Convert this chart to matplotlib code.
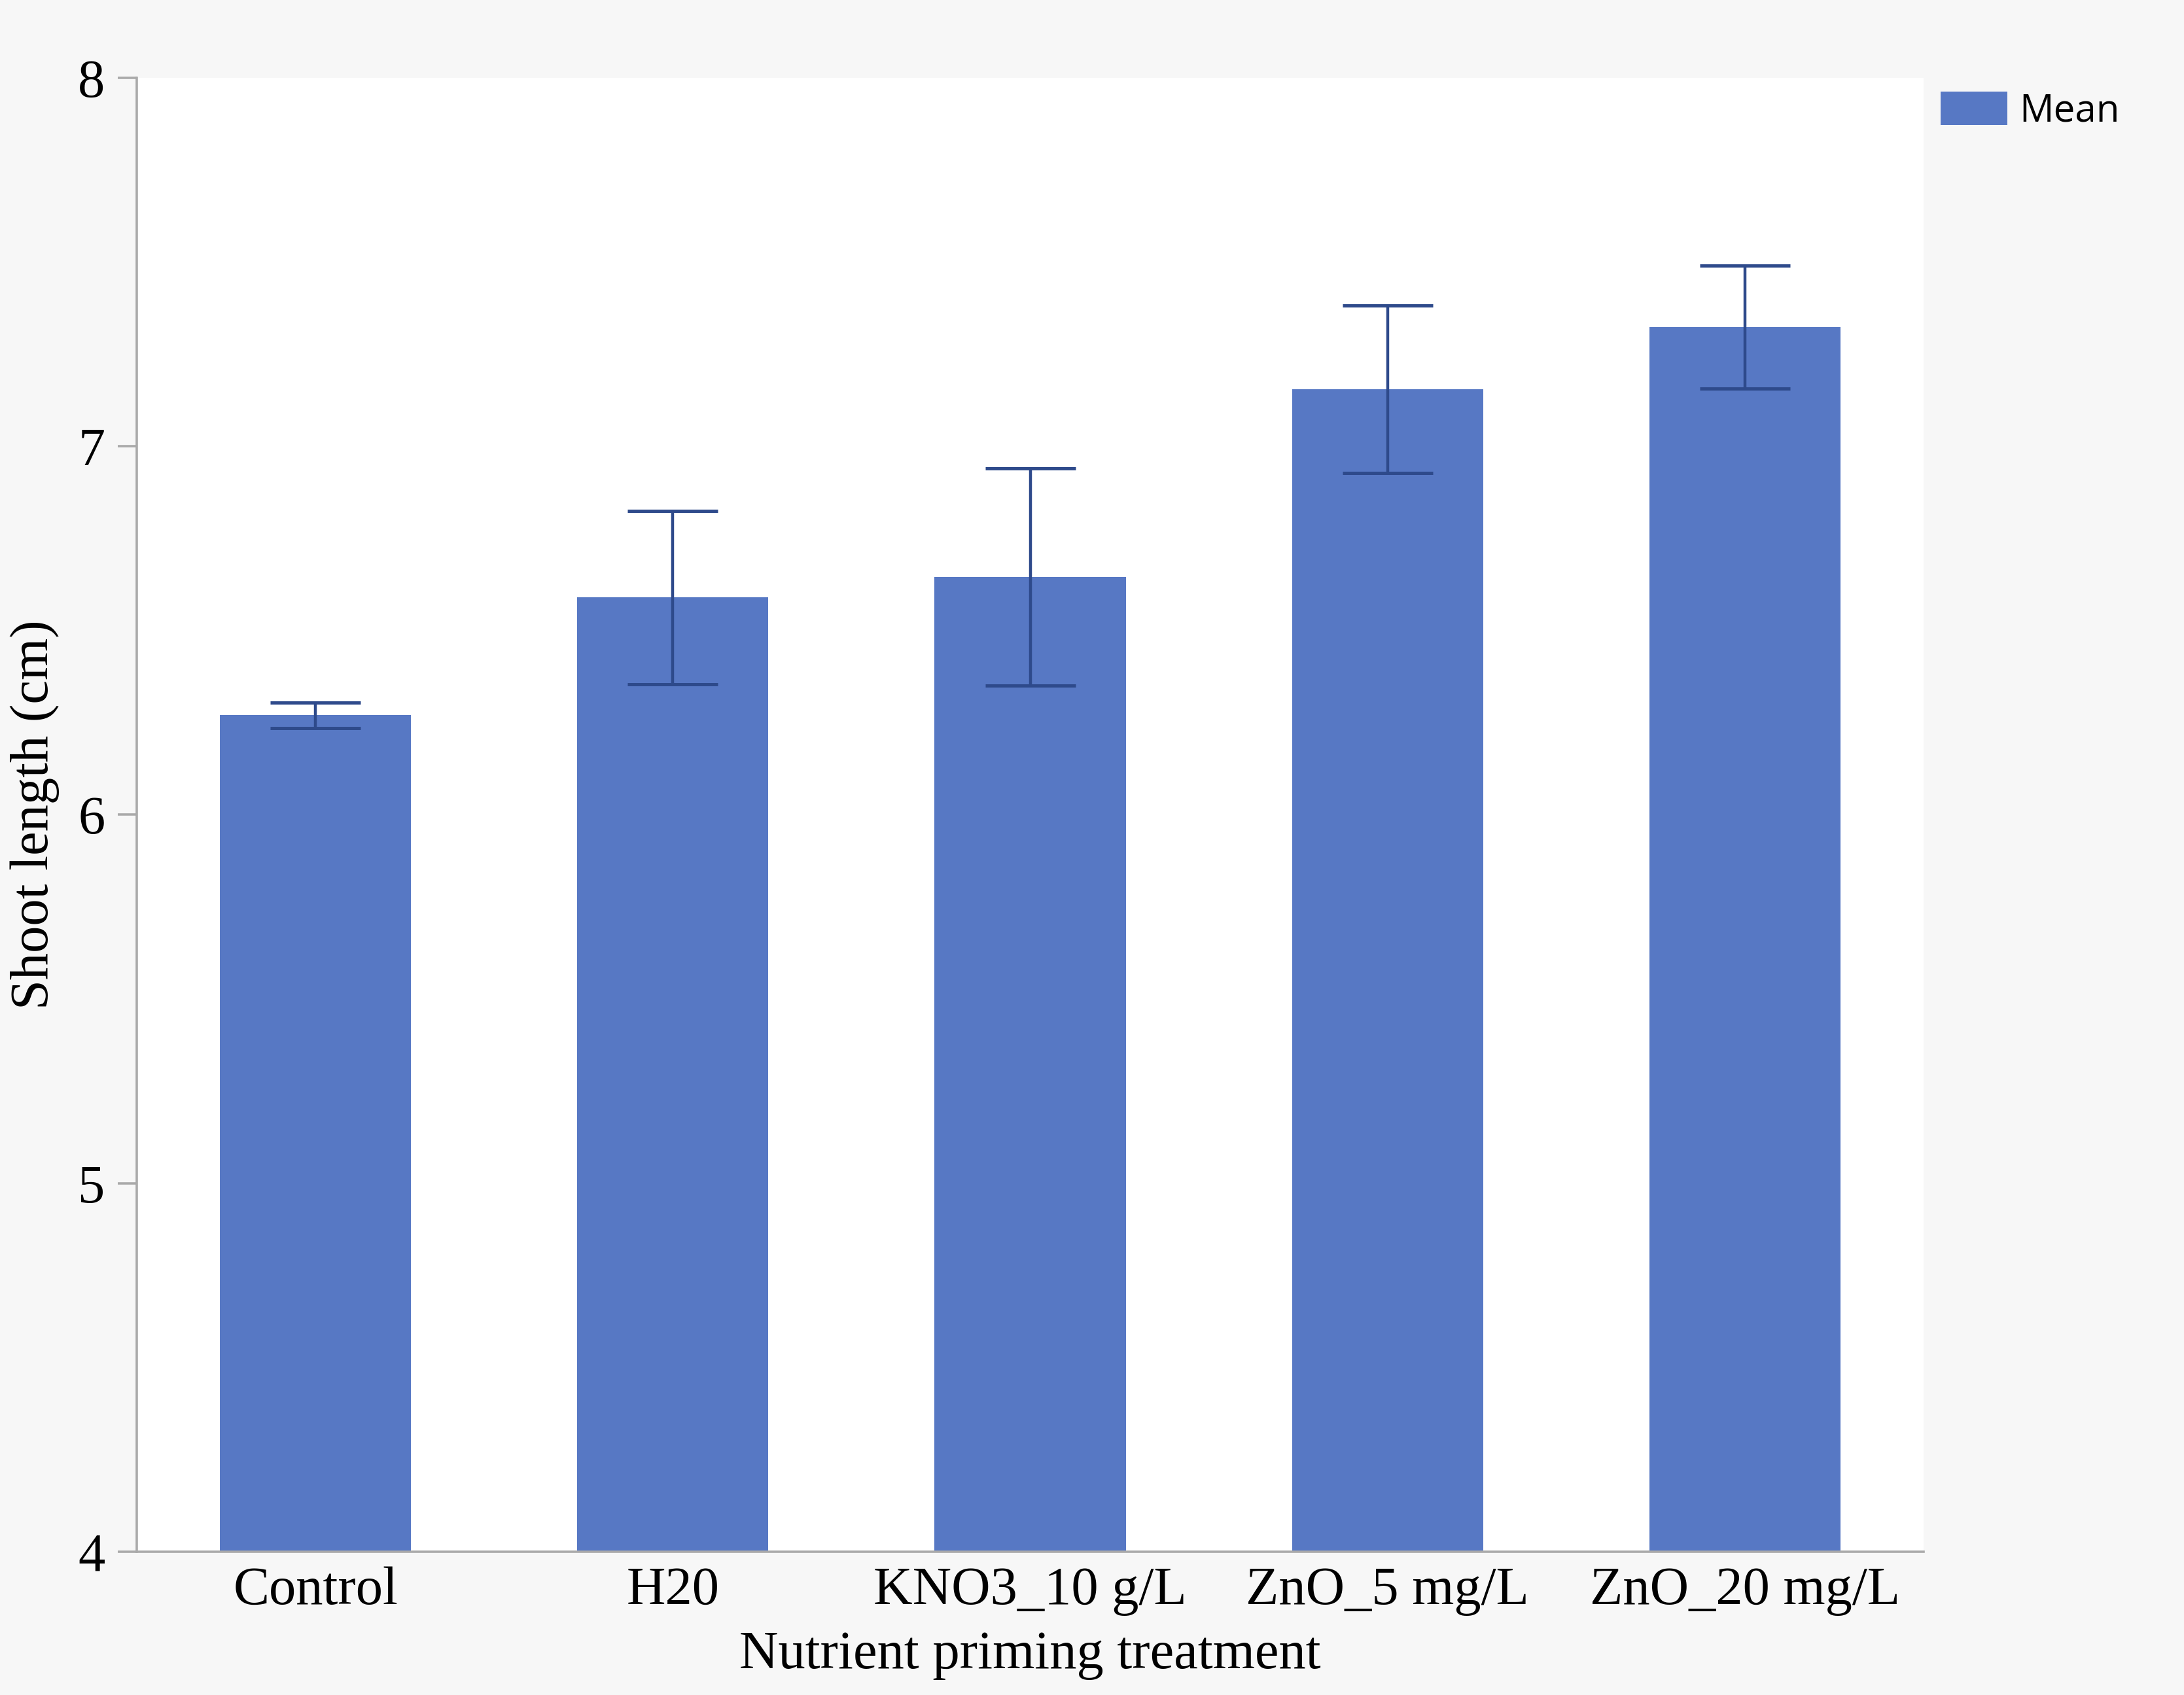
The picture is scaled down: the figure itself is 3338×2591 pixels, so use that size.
import matplotlib
matplotlib.use("Agg")
import matplotlib.pyplot as plt
import numpy as np

categories = ["Control", "H20", "KNO3_10 g/L", "ZnO_5 mg/L", "ZnO_20 mg/L"]
means = [6.27, 6.59, 6.645, 7.155, 7.323]
errors = [0.034, 0.235, 0.295, 0.227, 0.167]
yticks = [4, 5, 6, 7, 8]

W, H, DPI = 3338, 2591, 200
fig = plt.figure(figsize=(W / DPI, H / DPI), dpi=DPI, facecolor="#F7F7F7")
ax = fig.add_axes([0.0626, 0.0845, 0.8182, 0.8696])
ax.set_facecolor("white")

x = np.arange(len(categories))
bar_color = "#5778C4"
err_color = "#2E4A8B"
bars = ax.bar(x, means, width=0.535, color=bar_color, label="Mean", zorder=2)
ax.errorbar(x, means, yerr=errors, fmt="none", ecolor=err_color,
            elinewidth=1.6, capsize=25, capthick=1.8, zorder=3)

ax.set_xlim(-0.5, 4.5)
ax.set_ylim(4, 8)
ax.set_yticks(yticks)
ax.set_yticklabels([str(t) for t in yticks])
ax.set_xticks(x)
ax.set_xticklabels(categories)

serif = "Liberation Serif"
FS = 29.7
for lab in ax.get_yticklabels() + ax.get_xticklabels():
    lab.set_fontfamily(serif)
    lab.set_fontsize(FS)
    lab.set_color("black")

ax.tick_params(axis="y", length=10.5, width=1.3, color="#AAAAAA", pad=7)
ax.tick_params(axis="x", length=0, pad=8)

for s in ["top", "right"]:
    ax.spines[s].set_visible(False)
for s in ["left", "bottom"]:
    ax.spines[s].set_color("#AAAAAA")
    ax.spines[s].set_linewidth(1.3)

ax.set_ylabel("Shoot length (cm)", fontfamily=serif, fontsize=FS, labelpad=10)
ax.set_xlabel("Nutrient priming treatment", fontfamily=serif, fontsize=FS, labelpad=8)

leg = fig.legend(handles=[bars], labels=["Mean"], loc="upper left",
                 bbox_to_anchor=(0.8885, 0.946), frameon=False,
                 prop={"family": "Open Sans", "size": 21},
                 handlelength=1.76, handleheight=0.96, handletextpad=0.3,
                 borderpad=0, borderaxespad=0)

fig.savefig("out.png", dpi=DPI, facecolor=fig.get_facecolor())
